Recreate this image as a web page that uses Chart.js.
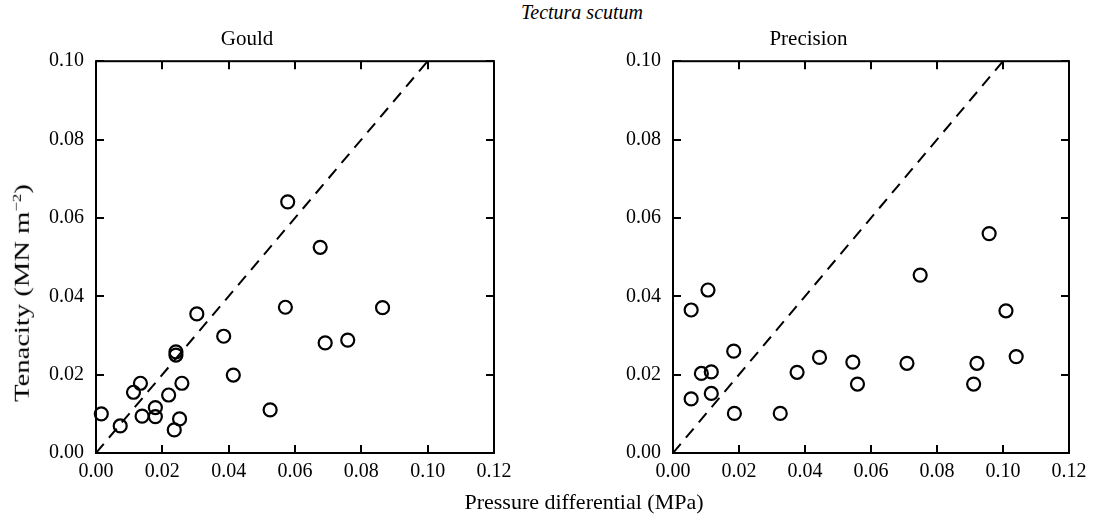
<!DOCTYPE html>
<html>
<head>
<meta charset="utf-8">
<script src="https://cdn.jsdelivr.net/npm/chart.js@4/dist/chart.umd.min.js"></script>
<style>
	body{margin:0;background:#fff;}
	#app{position:relative;width:1096px;height:519px;overflow:hidden;font-family:"Liberation Serif","Times New Roman",serif;color:#000;}
	canvas{position:absolute;top:0;}
	.lbl{position:absolute;white-space:nowrap;transform:translate(-50%,-50%);}
	#main-title{left:582px;top:12px;font-size:20px;font-style:italic;}
	#x-title{left:584px;top:502px;font-size:22px;}
	#y-title{left:22px;top:293px;font-size:22px;transform:translate(-50%,-50%) rotate(-90deg) scaleX(1.3);}
	#y-title sup{font-size:13px;}
</style>
</head>
<body>
<div id="app">
	<div class="lbl" id="main-title">Tectura scutum</div>
	<canvas id="gould-chart" width="548" height="519" style="left:0"></canvas>
	<canvas id="precision-chart" width="548" height="519" style="left:548px"></canvas>
	<div class="lbl" id="y-title">Tenacity (MN m<sup>−2</sup>)</div>
	<div class="lbl" id="x-title">Pressure differential (MPa)</div>
</div>
<script>
// Gould gauge: pressure differential (MPa) vs tenacity (MN m-2)
const gouldX = [0.0578, 0.0676, 0.0571, 0.0864, 0.0304, 0.0385, 0.0691, 0.0759, 0.0241, 0.0241, 0.0414, 0.0134, 0.0113, 0.0259, 0.0219, 0.0179, 0.0179, 0.0139, 0.0252, 0.0236, 0.0016, 0.0073, 0.0525]
const gouldY = [0.0641, 0.0525, 0.0372, 0.0371, 0.0355, 0.0298, 0.0281, 0.0288, 0.0258, 0.0250, 0.0199, 0.0178, 0.0155, 0.0178, 0.0148, 0.0116, 0.0093, 0.0094, 0.0087, 0.0059, 0.0100, 0.0069, 0.0110]

// Precision gauge
const precX = [0.0958, 0.0749, 0.0106, 0.0055, 0.1009, 0.0184, 0.0444, 0.1040, 0.0545, 0.0709, 0.0921, 0.0086, 0.0116, 0.0376, 0.0559, 0.0911, 0.0116, 0.0055, 0.0186, 0.0325]
const precY = [0.0560, 0.0454, 0.0416, 0.0365, 0.0363, 0.0260, 0.0244, 0.0246, 0.0232, 0.0229, 0.0229, 0.0203, 0.0207, 0.0206, 0.0176, 0.0176, 0.0152, 0.0138, 0.0101, 0.0101]

// 1:1 reference line
const lineX = [0, 0.1]
const lineY = [0, 0.1]

const xTicks = [0, 0.02, 0.04, 0.06, 0.08, 0.10, 0.12]
const yTicks = [0, 0.02, 0.04, 0.06, 0.08, 0.10]

const serif = "'Liberation Serif', 'Times New Roman', serif"

const framePlugin = {
	id: "frame",
	afterDatasetsDraw(chart){
		const ctx = chart.ctx
		const a = chart.chartArea
		const x = chart.scales.x
		const y = chart.scales.y
		const tl = 8
		ctx.save()
		ctx.strokeStyle = "#000"
		ctx.lineWidth = 2
		ctx.strokeRect(a.left, a.top, a.right - a.left, a.bottom - a.top)
		ctx.beginPath()
		x.ticks.forEach(t => {
			const px = Math.round(x.getPixelForValue(t.value))
			ctx.moveTo(px, a.bottom)
			ctx.lineTo(px, a.bottom - tl)
			ctx.moveTo(px, a.top)
			ctx.lineTo(px, a.top + tl)
		})
		y.ticks.forEach(t => {
			const py = Math.round(y.getPixelForValue(t.value))
			ctx.moveTo(a.left, py)
			ctx.lineTo(a.left + tl, py)
			ctx.moveTo(a.right, py)
			ctx.lineTo(a.right - tl, py)
		})
		ctx.stroke()
		ctx.restore()
	}
}

function makeChart(id, title, xs, ys, yWidth, rightPad){
	const pts = xs.map((v, i) => ({x: v, y: ys[i]}))
	const ref = lineX.map((v, i) => ({x: v, y: lineY[i]}))
	return new Chart(id, {
		type: "scatter",
		data: {
			datasets: [{
				type: "line",
				data: ref,
				borderColor: "#000",
				borderWidth: 2,
				borderDash: [12, 8],
				pointRadius: 0,
				fill: false,
				order: 2
			}, {
				data: pts,
				pointStyle: "circle",
				pointRadius: 6.5,
				pointBorderWidth: 2.2,
				borderColor: "#000",
				backgroundColor: "rgba(0,0,0,0)",
				clip: false,
				order: 1
			}]
		},
		options: {
			responsive: false,
			animation: false,
			devicePixelRatio: 1,
			layout: {padding: {left: 0, right: rightPad, top: 0, bottom: 0}},
			plugins: {
				legend: {display: false},
				tooltip: {enabled: false},
				title: {
					display: true,
					text: title,
					color: "#000",
					font: {family: serif, size: 21, weight: "normal"},
					padding: {top: 27, bottom: 9}
				}
			},
			scales: {
				x: {
					type: "linear",
					min: 0,
					max: 0.12,
					afterBuildTicks: s => { s.ticks = xTicks.map(v => ({value: v})) },
					afterFit: s => { s.height = 66 },
					grid: {display: false, drawTicks: false},
					border: {display: false},
					ticks: {
						color: "#000",
						font: {family: serif, size: 20},
						padding: 7,
						maxRotation: 0,
						autoSkip: false,
						callback: v => v.toFixed(2)
					}
				},
				y: {
					type: "linear",
					min: 0,
					max: 0.1,
					afterBuildTicks: s => { s.ticks = yTicks.map(v => ({value: v})) },
					afterFit: s => { s.width = yWidth },
					grid: {display: false, drawTicks: false},
					border: {display: false},
					ticks: {
						color: "#000",
						font: {family: serif, size: 20},
						padding: 12,
						autoSkip: false,
						callback: v => v.toFixed(2)
					}
				}
			}
		},
		plugins: [framePlugin]
	})
}

const gouldChart = makeChart("gould-chart", "Gould", gouldX, gouldY, 96, 54)
const precChart = makeChart("precision-chart", "Precision", precX, precY, 125, 27)
</script>
</body>
</html>
